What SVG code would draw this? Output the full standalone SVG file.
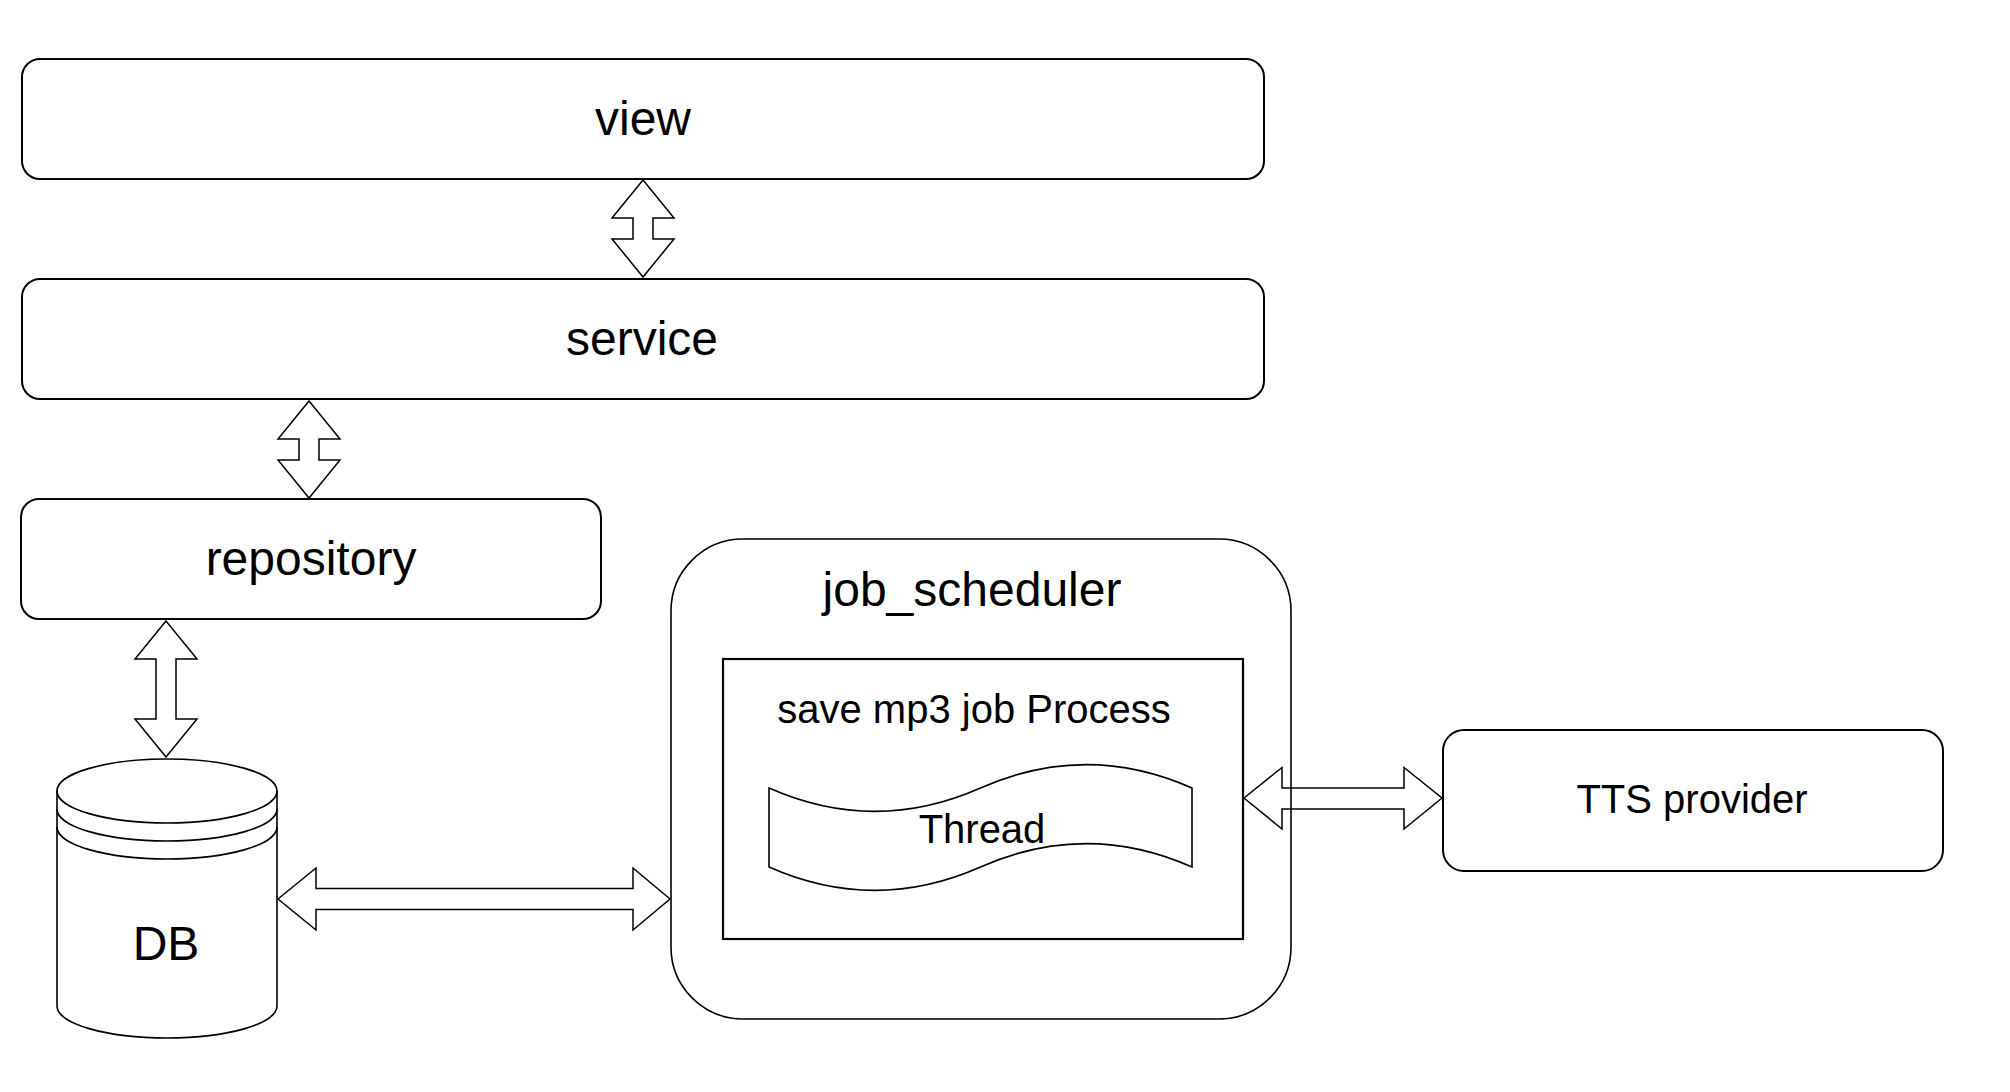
<svg xmlns="http://www.w3.org/2000/svg" width="2010" height="1092" viewBox="0 0 2010 1092">
<style>
.box{fill:#ffffff;stroke:#000000;stroke-width:2}
.thin{fill:#ffffff;stroke:#000000;stroke-width:1.6}
.arrow{fill:none;stroke:#000000;stroke-width:1.5;stroke-linejoin:miter}
.t48{font-family:"Liberation Sans",Arial,Helvetica,sans-serif;font-size:48px;fill:#000000;text-anchor:middle}
.t40{font-family:"Liberation Sans",Arial,Helvetica,sans-serif;font-size:40px;fill:#000000;text-anchor:middle}
</style>
<rect x="0" y="0" width="2010" height="1092" fill="#ffffff"/>
<g id="view">
<rect class="box" x="22" y="59" width="1242" height="120" rx="18" ry="18"/>
<text class="t48" x="643" y="135">view</text>
</g>
<g id="service">
<rect class="box" x="22" y="279" width="1242" height="120" rx="18" ry="18"/>
<text class="t48" x="642" y="355">service</text>
</g>
<g id="repository">
<rect class="box" x="21" y="499" width="580" height="120" rx="18" ry="18"/>
<text class="t48" x="311" y="575">repository</text>
</g>
<g id="db">
<path class="thin" d="M57,791 A110,32 0 0 1 277,791 L277,1006 A110,32 0 0 1 57,1006 Z"/>
<path fill="none" stroke="#000" stroke-width="1.6" d="M57,791 A110,32 0 0 0 277,791 M57,809 A110,32 0 0 0 277,809 M57,827 A110,32 0 0 0 277,827"/>
<text class="t48" x="166" y="960">DB</text>
</g>
<g id="job_scheduler">
<rect class="thin" x="671" y="539" width="620" height="480" rx="72" ry="72"/>
<text class="t48" x="972" y="606">job_scheduler</text>
</g>
<g id="save_mp3_job_process">
<rect fill="#ffffff" stroke="#000" stroke-width="2.2" x="723" y="659" width="520" height="280"/>
<text class="t40" x="974" y="723">save mp3 job Process</text>
</g>
<g id="thread">
<path class="thin" d="M769,788 Q874.75,834.8 980.5,788 Q1086.25,741.2 1192,788 L1192,867 Q1086.25,820.2 980.5,867 Q874.75,913.8 769,867 Z"/>
<text class="t40" x="982" y="843">Thread</text>
</g>
<g id="tts_provider">
<rect class="box" x="1443" y="730" width="500" height="141" rx="21" ry="21"/>
<text class="t40" x="1692" y="813">TTS provider</text>
</g>
<g id="connectors">
<polygon class="arrow" points="643,180 674,218 653,218 653,239 674,239 643,277 612,239 633,239 633,218 612,218"/>
<polygon class="arrow" points="309,401 340,439 319,439 319,460 340,460 309,498 278,460 299,460 299,439 278,439"/>
<polygon class="arrow" points="166,621 197,659 176,659 176,719 197,719 166,757 135,719 156,719 156,659 135,659"/>
<polygon class="arrow" points="278,899 316,868 316,888.5 633,888.5 633,868 670,899 633,930 633,909.5 316,909.5 316,930"/>
<polygon class="arrow" points="1244,798 1282,767.5 1282,788 1404,788 1404,767.5 1442,798 1404,829 1404,809 1282,809 1282,829"/>
</g>
</svg>
